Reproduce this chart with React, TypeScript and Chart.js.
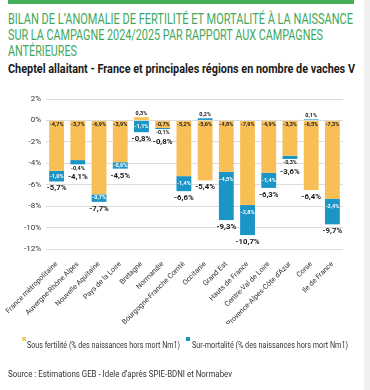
import React, { useEffect, useLayoutEffect, useRef } from "react";
import { Chart, registerables } from "chart.js";
Chart.register(...registerables);

const FONT = "Roboto, 'Liberation Sans', sans-serif";

const categories = [
  "France métropolitaine",
  "Auvergne-Rhône Alpes",
  "Nouvelle Aquitaine",
  "Pays de la Loire",
  "Bretagne",
  "Normandie",
  "Bourgogne-Franche Comté",
  "Occitanie",
  "Grand Est",
  "Hauts de France",
  "Centre-Val de Loire",
  "Provence-Alpes-Côte d'Azur",
  "Corse",
  "Ile de France",
];
const sousFertilite = [-4.7, -3.7, -6.9, -3.9, 0.3, -0.7, -5.2, -5.6, -4.8, -7.9, -4.9, -3.3, -6.5, -7.3];
const surMortalite = [-1.0, -0.4, -0.7, -0.6, -1.1, -0.1, -1.4, 0.2, -4.5, -2.8, -1.4, -0.3, 0.1, -2.4];
const totals = [-5.7, -4.1, -7.7, -4.5, -0.8, -0.8, -6.6, -5.4, -9.3, -10.7, -6.3, -3.6, -6.4, -9.7];
const yMin = -12;
const yMax = 2;
const yStep = 2;

const seriesNames = [
  "Sous fertilité (% des naissances hors mort Nm1)",
  "Sur-mortalité (% des naissances hors mort Nm1)",
];

const YELLOW = "#F9BF57";
const BLUE = "#1B95C6";

const fmt = (v: number) => v.toFixed(1).replace(".", ",") + "%";

const labelPlugin = {
  id: "valueLabels",
  afterDatasetsDraw(chart: any) {
    const ctx = chart.ctx;
    const m0 = chart.getDatasetMeta(0);
    const m1 = chart.getDatasetMeta(1);
    const zero = chart.scales.y.getPixelForValue(0);
    ctx.save();
    ctx.textAlign = "center";
    ctx.textBaseline = "middle";
    categories.forEach((_, i) => {
      const b0 = m0.data[i];
      const b1 = m1.data[i];
      const x = b0.x;
      const v0 = sousFertilite[i];
      const v1 = surMortalite[i];
      const lowest = Math.max(b0.y, b0.base, b1.y, b1.base);
      ctx.font = `bold 5.5px ${FONT}`;
      ctx.fillStyle = "#222";
      if (v0 >= 0) ctx.fillText(fmt(v0), x, Math.min(b0.y, b0.base) - 3.5);
      else ctx.fillText(fmt(v0), x, zero + 4.5);
      const top1 = Math.min(b1.y, b1.base);
      const bot1 = Math.max(b1.y, b1.base);
      const h1 = bot1 - top1;
      let totalY = lowest + 7;
      if (v1 > 0) {
        ctx.fillStyle = "#222";
        ctx.fillText(fmt(v1), x, top1 - 3.5);
      } else if (h1 >= 5.5) {
        ctx.fillStyle = "#fff";
        ctx.fillText(fmt(v1), x, top1 + Math.min(h1 / 2, 7.5));
      } else {
        ctx.fillStyle = "#222";
        const ly = bot1 + 4;
        ctx.fillText(fmt(v1), x, ly);
        totalY = ly + 9;
      }
      ctx.font = `bold 7.8px ${FONT}`;
      ctx.fillStyle = "#1a1a1a";
      ctx.fillText(fmt(totals[i]), x, totalY);
    });
    ctx.restore();
  },
};

function FitText({ text, width, style }: { text: string; width: number; style?: any }) {
  const ref = useRef<HTMLSpanElement>(null);
  useLayoutEffect(() => {
    const el = ref.current;
    if (!el) return;
    el.style.transform = "none";
    const w = el.getBoundingClientRect().width;
    if (w > 0) el.style.transform = `scaleX(${width / w})`;
  }, [text, width]);
  return (
    <span ref={ref} style={{ display: "inline-block", whiteSpace: "nowrap", transformOrigin: "0 0", ...style }}>
      {text}
    </span>
  );
}

function ChartBox() {
  const ref = useRef<HTMLCanvasElement>(null);
  useEffect(() => {
    if (!ref.current) return;
    const chart = new Chart(ref.current, {
      type: "bar",
      data: {
        labels: categories,
        datasets: [
          {
            label: seriesNames[0],
            data: sousFertilite,
            backgroundColor: YELLOW,
            borderWidth: 0,
            barPercentage: 0.7,
            categoryPercentage: 1,
          },
          {
            label: seriesNames[1],
            data: surMortalite,
            backgroundColor: BLUE,
            borderWidth: 0,
            barPercentage: 0.7,
            categoryPercentage: 1,
          },
        ],
      },
      options: {
        animation: false,
        responsive: false,
        maintainAspectRatio: false,
        layout: { padding: { left: 0, right: 27, top: 8, bottom: 22 } },
        plugins: {
          tooltip: { enabled: false },
          legend: { display: false },
        },
        scales: {
          x: {
            stacked: true,
            grid: { display: false },
            border: { display: false },
            ticks: {
              autoSkip: false,
              minRotation: 45,
              maxRotation: 45,
              padding: 3,
              color: "#333",
              font: { family: FONT, size: 7.2 },
            },
            afterFit: (s: any) => {
              s.height = 75;
              s.paddingLeft = 0;
              s.paddingRight = 0;
            },
          },
          y: {
            stacked: true,
            min: yMin,
            max: yMax,
            border: { display: false },
            grid: { color: "#dcdcdc", lineWidth: 1, drawTicks: false },
            ticks: {
              stepSize: yStep,
              padding: 5,
              color: "#333",
              font: { family: FONT, size: 8 },
              callback: (v: any) => `${v}%`,
            },
            afterFit: (s: any) => {
              s.width = 46;
              s.paddingTop = 0;
              s.paddingBottom = 0;
            },
          },
        },
      },
      plugins: [labelPlugin],
    });
    return () => chart.destroy();
  }, []);
  return <canvas ref={ref} width={370} height={255} style={{ position: "absolute", left: 0, top: 91 }} />;
}

export default function App() {
  const titleStyle = { color: "#3FA85C", fontSize: 15.5, lineHeight: "16px", fontFamily: FONT };
  return (
    <div style={{ position: "absolute", left: 0, top: 0, width: 370, height: 390, background: "#fff", overflow: "hidden", fontFamily: FONT }}>
      <div style={{ position: "absolute", left: 8, top: 0, width: 346, height: 4, background: "#45AE5B" }} />
      <div style={{ position: "absolute", right: 0, top: 0, width: 6, height: 390, background: "#efefef" }} />
      <div style={{ position: "absolute", left: 8, top: 9 }}>
        <FitText text="BILAN DE L’ANOMALIE DE FERTILITÉ ET MORTALITÉ À LA NAISSANCE" width={345} style={titleStyle} />
      </div>
      <div style={{ position: "absolute", left: 8, top: 25 }}>
        <FitText text="SUR LA CAMPAGNE 2024/2025 PAR RAPPORT AUX CAMPAGNES" width={315} style={titleStyle} />
      </div>
      <div style={{ position: "absolute", left: 8, top: 41 }}>
        <FitText text="ANTÉRIEURES" width={69} style={titleStyle} />
      </div>
      <div style={{ position: "absolute", left: 8, top: 58 }}>
        <FitText
          text="Cheptel allaitant - France et principales régions en nombre de vaches V"
          width={347}
          style={{ color: "#1a1a1a", fontSize: 12.5, lineHeight: "15px", fontWeight: "bold" }}
        />
      </div>
      <ChartBox />
      <div style={{ position: "absolute", left: 22, top: 337, width: 4, height: 4, background: "#F2CF72" }} />
      <div style={{ position: "absolute", left: 27, top: 333 }}>
        <FitText text={seriesNames[0]} width={153} style={{ color: "#333", fontSize: 9.5, lineHeight: "12px" }} />
      </div>
      <div style={{ position: "absolute", left: 186, top: 337, width: 4, height: 4, background: BLUE }} />
      <div style={{ position: "absolute", left: 192, top: 333 }}>
        <FitText text={seriesNames[1]} width={156} style={{ color: "#333", fontSize: 9.5, lineHeight: "12px" }} />
      </div>
      <div style={{ position: "absolute", left: 8, top: 362 }}>
        <FitText
          text="Source : Estimations GEB - Idele d’après SPIE-BDNI et Normabev"
          width={224}
          style={{ color: "#333", fontSize: 9.5, lineHeight: "12px" }}
        />
      </div>
    </div>
  );
}
